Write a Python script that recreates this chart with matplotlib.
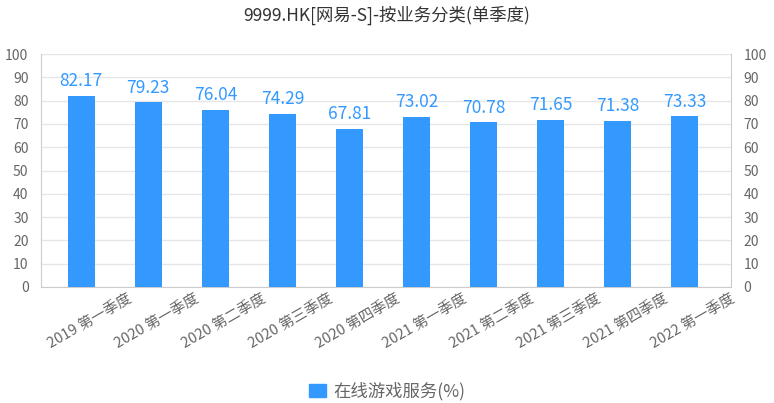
import matplotlib.pyplot as plt
from matplotlib.patches import Patch
import numpy as np

plt.rcParams["font.family"] = ["Noto Sans CJK SC", "DejaVu Sans"]

TITLE = "9999.HK[网易-S]-按业务分类(单季度)"
SERIES_NAME = "在线游戏服务(%)"

quarters = [
    "2019 第一季度",
    "2020 第一季度",
    "2020 第二季度",
    "2020 第三季度",
    "2020 第四季度",
    "2021 第一季度",
    "2021 第二季度",
    "2021 第三季度",
    "2021 第四季度",
    "2022 第一季度",
]
game_share = [82.17, 79.23, 76.04, 74.29, 67.81, 73.02, 70.78, 71.65, 71.38, 73.33]
y_ticks = [0, 10, 20, 30, 40, 50, 60, 70, 80, 90, 100]

BAR_COLOR = "#3399FF"
TEXT_COLOR = "#666666"
GRID_COLOR = "#E6E6E6"
AXIS_COLOR = "#CCCCCC"


def main():
    fig = plt.figure(figsize=(7.74, 4.03), dpi=100)
    ax = fig.add_axes([41 / 774, 116 / 403, 690 / 774, 233 / 403])

    x = np.arange(len(quarters))
    ax.bar(x, game_share, width=0.4, color=BAR_COLOR, zorder=3)

    for xi, value in zip(x, game_share):
        ax.annotate(
            f"{value:.2f}",
            (xi, value),
            xytext=(0, 4),
            textcoords="offset points",
            ha="center",
            va="bottom",
            color=BAR_COLOR,
            fontsize=12.5,
        )

    ax.set_xlim(-0.6, 9.6)
    ax.set_ylim(0, 100)
    ax.set_yticks(y_ticks)
    ax.grid(axis="y", color=GRID_COLOR, linewidth=1, zorder=0)
    ax.tick_params(axis="y", length=0, pad=9, labelsize=10, labelcolor=TEXT_COLOR)

    ax.set_xticks(x + 0.69)
    ax.set_xticklabels(quarters)
    ax.tick_params(axis="x", length=0, pad=4, labelsize=10.5, labelcolor=TEXT_COLOR)
    for label in ax.get_xticklabels():
        label.set_rotation(30)
        label.set_ha("right")
        label.set_va("top")
        label.set_rotation_mode("anchor")

    for side in ["left", "right", "bottom"]:
        ax.spines[side].set_color(AXIS_COLOR)
    ax.spines["top"].set_visible(False)

    ax2 = ax.twinx()
    ax2.set_ylim(0, 100)
    ax2.set_yticks(y_ticks)
    ax2.tick_params(axis="y", length=0, pad=9, labelsize=10, labelcolor=TEXT_COLOR)
    for side in ["left", "right", "bottom", "top"]:
        ax2.spines[side].set_visible(False)

    fig.text(0.5, 1 - 15 / 403, TITLE, ha="center", va="center",
             fontsize=12.5, color="#333333")

    handle = Patch(facecolor=BAR_COLOR, edgecolor=BAR_COLOR)
    fig.legend(
        [handle],
        [SERIES_NAME],
        loc="center",
        bbox_to_anchor=(0.5, 12 / 403),
        frameon=False,
        fontsize=12.5,
        labelcolor=TEXT_COLOR,
        handlelength=1.0,
        handleheight=0.8,
        handletextpad=0.4,
    )

    fig.savefig("out.png", dpi=100)
    plt.close(fig)


if __name__ == "__main__":
    main()
